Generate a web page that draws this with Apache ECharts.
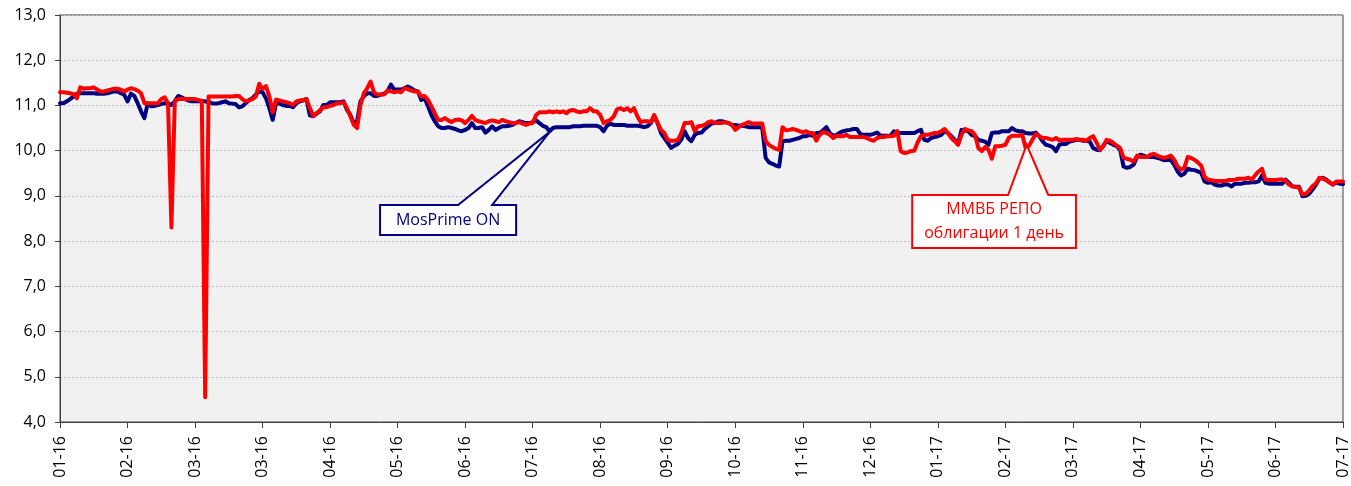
<!DOCTYPE html>
<html><head><meta charset="utf-8">
<script src="https://cdn.jsdelivr.net/npm/echarts@6/dist/echarts.min.js"></script>
<style>html,body{margin:0;padding:0;background:#fff}#main{width:1351px;height:486px}</style>
</head><body><div id="main"></div>
<script>
const tickLabels = ['01-16','02-16','03-16','03-16','04-16','05-16','06-16','07-16','08-16','09-16',
  '10-16','11-16','12-16','01-17','02-17','03-17','04-17','05-17','06-17','07-17'];

// MosPrime ON
const mosprime = [
11.05,11.05,11.09,11.14,11.2,11.26,11.27,11.27,11.27,11.27,
11.27,11.26,11.26,11.26,11.27,11.29,11.31,11.31,11.27,11.24,
11.09,11.26,11.21,11.05,10.87,10.72,11.05,10.98,10.99,11.01,
11.03,11.05,11.05,11.01,11.09,11.21,11.18,11.14,11.11,11.09,
11.09,11.09,11.09,11.09,11.07,11.05,11.04,11.05,11.07,11.09,
11.05,11.04,11.03,10.96,10.98,11.05,11.12,11.16,11.24,11.31,
11.29,11.16,10.94,10.68,11.05,11.04,11.01,10.99,10.99,10.96,
11.05,11.09,11.11,11.14,10.78,10.76,10.82,10.87,11.01,11.01,
11.07,11.07,11.07,11.07,11.09,10.9,10.79,10.61,10.65,11.09,
11.2,11.27,11.27,11.21,11.21,11.24,11.26,11.31,11.46,11.35,
11.35,11.35,11.38,11.42,11.38,11.33,11.31,11.12,11.16,10.98,
10.79,10.65,10.54,10.5,10.5,10.52,10.5,10.48,10.45,10.43,
10.46,10.5,10.61,10.5,10.5,10.52,10.4,10.46,10.54,10.46,
10.5,10.54,10.54,10.55,10.57,10.61,10.65,10.63,10.61,10.61,
10.63,10.67,10.61,10.55,10.52,10.43,10.5,10.52,10.52,10.52,
10.52,10.52,10.54,10.54,10.54,10.55,10.55,10.55,10.55,10.55,
10.52,10.43,10.55,10.6,10.57,10.57,10.57,10.57,10.55,10.55,
10.55,10.55,10.54,10.52,10.54,10.61,10.76,10.61,10.39,10.28,
10.17,10.06,10.11,10.15,10.24,10.43,10.28,10.21,10.35,10.39,
10.4,10.48,10.54,10.6,10.61,10.65,10.65,10.63,10.61,10.57,
10.57,10.55,10.55,10.54,10.52,10.52,10.52,10.52,10.5,9.84,
9.74,9.71,9.67,9.65,10.21,10.22,10.22,10.24,10.26,10.28,
10.32,10.32,10.35,10.33,10.39,10.39,10.45,10.52,10.39,10.33,
10.35,10.4,10.43,10.45,10.46,10.48,10.48,10.37,10.35,10.35,
10.35,10.37,10.4,10.33,10.33,10.33,10.33,10.43,10.39,10.39,
10.39,10.39,10.39,10.39,10.43,10.46,10.24,10.22,10.28,10.3,
10.32,10.35,10.43,10.39,10.32,10.24,10.15,10.46,10.45,10.43,
10.35,10.32,10.24,10.22,10.2,10.13,10.39,10.4,10.4,10.43,
10.43,10.43,10.5,10.45,10.43,10.43,10.39,10.38,10.38,10.4,
10.32,10.21,10.13,10.11,10.08,9.99,10.13,10.15,10.15,10.2,
10.22,10.24,10.24,10.22,10.22,10.2,10.06,10.02,10.01,10.11,
10.21,10.17,10.13,10.1,10.02,9.65,9.62,9.64,9.69,9.86,
9.91,9.89,9.86,9.86,9.86,9.84,9.82,9.79,9.8,9.79,
9.69,9.54,9.45,9.49,9.6,9.58,9.57,9.54,9.51,9.32,
9.29,9.3,9.25,9.23,9.23,9.25,9.25,9.21,9.27,9.27,
9.27,9.29,9.29,9.3,9.3,9.32,9.45,9.29,9.27,9.27,
9.27,9.27,9.27,9.36,9.29,9.21,9.2,9.2,8.99,9.0,
9.05,9.14,9.25,9.38,9.4,9.36,9.3,9.25,9.3,9.27,
9.26];

// ММВБ РЕПО облигации 1 день
const repo = [
11.29,11.29,11.28,11.27,11.25,11.16,11.4,11.37,11.38,11.38,
11.4,11.35,11.31,11.31,11.33,11.35,11.37,11.37,11.35,11.31,
11.35,11.38,11.36,11.33,11.27,11.05,11.05,11.05,11.05,11.05,
11.14,11.18,11.05,8.3,11.1,11.14,11.14,11.14,11.14,11.14,
11.14,11.12,11.1,4.55,11.2,11.2,11.2,11.2,11.2,11.2,
11.2,11.2,11.21,11.21,11.14,11.09,11.11,11.14,11.2,11.48,
11.36,11.43,11.2,10.85,11.13,11.11,11.09,11.07,11.05,11.01,
11.09,11.11,11.12,11.14,10.94,10.77,10.83,10.89,10.96,10.96,
10.99,11.01,11.05,11.05,11.07,10.94,10.76,10.57,10.5,11.01,
11.27,11.38,11.53,11.29,11.24,11.24,11.24,11.33,11.31,11.29,
11.31,11.29,11.38,11.36,11.33,11.31,11.31,11.2,11.21,11.12,
10.98,10.83,10.68,10.68,10.72,10.67,10.63,10.68,10.69,10.67,
10.61,10.68,10.77,10.68,10.65,10.63,10.61,10.65,10.67,10.65,
10.63,10.68,10.65,10.63,10.61,10.61,10.63,10.6,10.57,10.6,
10.61,10.79,10.85,10.85,10.85,10.87,10.85,10.87,10.85,10.87,
10.83,10.89,10.9,10.87,10.85,10.87,10.87,10.94,10.87,10.87,
10.79,10.61,10.65,10.68,10.76,10.92,10.94,10.9,10.94,10.87,
10.94,10.76,10.63,10.65,10.65,10.63,10.79,10.61,10.46,10.39,
10.24,10.22,10.22,10.24,10.39,10.61,10.61,10.63,10.43,10.54,
10.55,10.57,10.63,10.65,10.61,10.61,10.61,10.63,10.61,10.57,
10.46,10.52,10.57,10.6,10.63,10.6,10.6,10.6,10.6,10.21,
10.13,10.08,10.04,10.02,10.52,10.45,10.46,10.48,10.46,10.43,
10.41,10.43,10.39,10.39,10.22,10.35,10.41,10.39,10.35,10.28,
10.33,10.32,10.32,10.35,10.3,10.3,10.3,10.3,10.3,10.28,
10.24,10.22,10.28,10.3,10.3,10.32,10.32,10.33,10.43,9.99,
9.95,9.96,9.99,10.0,10.18,10.32,10.35,10.35,10.37,10.39,
10.39,10.43,10.48,10.39,10.28,10.21,10.13,10.35,10.48,10.45,
10.43,10.35,10.06,9.99,10.08,10.02,9.82,10.1,10.1,10.11,
10.13,10.28,10.33,10.33,10.33,10.35,10.06,10.11,10.24,10.37,
10.32,10.28,10.28,10.26,10.24,10.28,10.23,10.24,10.24,10.24,
10.24,10.26,10.24,10.24,10.22,10.28,10.32,10.18,10.02,10.1,
10.24,10.22,10.17,10.11,10.06,9.84,9.82,9.8,9.76,9.89,
9.86,9.86,9.86,9.91,9.93,9.89,9.86,9.84,9.86,9.89,
9.8,9.65,9.58,9.62,9.86,9.84,9.8,9.74,9.67,9.42,
9.36,9.35,9.33,9.33,9.33,9.33,9.35,9.35,9.36,9.38,
9.38,9.38,9.4,9.36,9.46,9.54,9.6,9.36,9.35,9.35,
9.35,9.36,9.36,9.33,9.25,9.21,9.2,9.18,9.03,9.05,
9.12,9.22,9.28,9.4,9.38,9.35,9.3,9.25,9.32,9.32,
9.32];

const categories = mosprime.map((_, i) => String(i));
const TICK_EVERY = 20;
const FONT = '"Open Sans", "Noto Sans", sans-serif';

const chart = echarts.init(document.getElementById('main'), null, {renderer: 'canvas'});
chart.setOption({
  animation: false,
  backgroundColor: '#ffffff',
  grid: {left: 60, right: 6, top: 15, bottom: 64, show: true,
         backgroundColor: '#f1f1f1', borderColor: '#404040', borderWidth: 1},
  xAxis: {
    type: 'category', data: categories, boundaryGap: false,
    axisLine: {lineStyle: {color: '#404040', width: 1}},
    axisTick: {show: true, interval: TICK_EVERY - 1, length: 6, lineStyle: {color: '#404040'}},
    axisLabel: {interval: TICK_EVERY - 1, rotate: 90, margin: 14, fontSize: 16, color: '#000',
      fontFamily: FONT, formatter: (v, i) => tickLabels[Math.round(i / TICK_EVERY)]},
    splitLine: {show: false}
  },
  yAxis: {
    type: 'value', min: 4, max: 13, interval: 1,
    axisLine: {show: true, lineStyle: {color: '#404040', width: 1}},
    axisTick: {show: true, length: 5, lineStyle: {color: '#404040'}},
    axisLabel: {margin: 14, fontSize: 16, color: '#000', fontFamily: FONT,
      formatter: v => v.toFixed(1).replace('.', ',')},
    splitLine: {show: true, lineStyle: {color: '#bcbcbc', type: [2, 2], width: 1}}
  },
  series: [
    {name: 'MosPrime ON', type: 'line', data: mosprime, showSymbol: false, symbol: 'none',
     lineStyle: {color: '#000080', width: 4, cap: 'round', join: 'round'}, z: 2},
    {name: 'ММВБ РЕПО облигации 1 день', type: 'line', data: repo, showSymbol: false, symbol: 'none',
     lineStyle: {color: '#ff0000', width: 4, cap: 'round', join: 'round'}, z: 3}
  ]
});

// callouts, anchored in data coordinates
const callouts = [
  {text: 'MosPrime ON', color: '#000080', tip: [145.1, 10.42],
   box: [94.8, 8.80, 135.1, 8.135], base: [117.9, 128.0], lineWidth: 2},
  {text: 'ММВБ РЕПО\nоблигации 1 день', color: '#ff0000', tip: [286.3, 10.13],
   box: [252.4, 9.02, 300.9, 7.85], base: [280.8, 292.7], lineWidth: 2}
];
function px(idx, val) {
  const a = chart.convertToPixel({gridIndex: 0}, [0, val]);
  const b = chart.convertToPixel({gridIndex: 0}, [categories.length - 1, val]);
  return [a[0] + (b[0] - a[0]) * idx / (categories.length - 1), a[1]];
}
const graphics = [];
callouts.forEach(c => {
  const tl = px(c.box[0], c.box[1]), br = px(c.box[2], c.box[3]);
  const tip = px(c.tip[0], c.tip[1]);
  const bl = px(c.base[0], c.box[1]), brr = px(c.base[1], c.box[1]);
  graphics.push({type: 'polygon', z: 100,
    shape: {points: [[tl[0], tl[1]], [bl[0], tl[1]], tip, [brr[0], tl[1]], [br[0], tl[1]], [br[0], br[1]], [tl[0], br[1]]]},
    style: {fill: '#ffffff', stroke: c.color, lineWidth: c.lineWidth, lineJoin: 'miter'}});
  graphics.push({type: 'text', z: 101,
    style: {x: (tl[0] + br[0]) / 2, y: (tl[1] + br[1]) / 2, text: c.text, fill: c.color,
      fontSize: 16, fontFamily: FONT, align: 'center', verticalAlign: 'middle', lineHeight: 24}});
});
chart.setOption({graphic: graphics});
</script>
</body></html>
